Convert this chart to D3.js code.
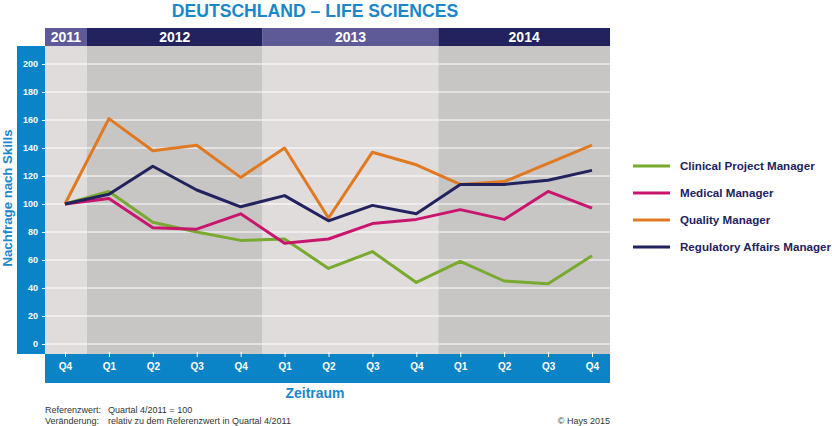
<!DOCTYPE html>
<html><head><meta charset="utf-8">
<script src="https://cdn.jsdelivr.net/npm/d3@7"></script>
<style>body{margin:0;background:#fff}svg{display:block;font-family:"Liberation Sans",Arial,sans-serif}</style>
</head><body><svg id="c" width="832" height="426"></svg>
<script>
const quarters = ["Q4","Q1","Q2","Q3","Q4","Q1","Q2","Q3","Q4","Q1","Q2","Q3","Q4"];
const years = [{label:"2011",from:0,to:0},{label:"2012",from:1,to:4},{label:"2013",from:5,to:8},{label:"2014",from:9,to:12}];
const seriesNames = ["Clinical Project Manager","Medical Manager","Quality Manager","Regulatory Affairs Manager"];
const clinical = [100,109,87,80,74,75,54,66,44,59,45,43,63];
const medical = [100,104,83,82,93,72,75,86,89,96,89,109,97];
const quality = [100,161,138,142,119,140,90,137,128,114,116,129,142];
const regulatory = [100,107,127,110,98,106,88,99,93,114,114,117,124];
const colors = ["#78aa2f","#c8166f","#e07a22","#22225e"];
const yTicks = [0,20,40,60,80,100,120,140,160,180,200];

const svg = d3.select("#c");
const L=45,R=610,T=46,B=354;
const x = d3.scalePoint().domain(d3.range(quarters.length)).range([65,592]);
const y = d3.scaleLinear().domain([0,200]).range([344,64]);
const step = x.step();

// title
svg.append("text").attr("x",315).attr("y",17).attr("text-anchor","middle")
  .attr("fill","#1a87c9").attr("font-weight","bold").attr("font-size",17.6).text("DEUTSCHLAND – LIFE SCIENCES");

// backgrounds and year header
years.forEach((yr,i)=>{
  const x0 = Math.max(L, x(yr.from)-step/2), x1 = Math.min(R, x(yr.to)+step/2);
  svg.append("rect").attr("x",x0).attr("y",T).attr("width",x1-x0).attr("height",B-T)
    .attr("fill", i%2===0 ? "#e0dcdb" : "#c8c6c5");
  svg.append("rect").attr("x",x0).attr("y",28).attr("width",x1-x0).attr("height",T-28)
    .attr("fill", i%2===0 ? "#5e5a98" : "#22225e");
  svg.append("text").attr("x",(x0+x1)/2).attr("y",42).attr("text-anchor","middle")
    .attr("fill","#fff").attr("font-weight","bold").attr("font-size",14).text(yr.label);
});

// gridlines
svg.append("g").selectAll("line").data(yTicks).join("line")
  .attr("x1",L).attr("x2",R).attr("y1",d=>y(d)).attr("y2",d=>y(d))
  .attr("stroke","#fff").attr("stroke-width",1);

// left blue bar & y axis
svg.append("rect").attr("x",17).attr("y",T).attr("width",L-17).attr("height",B-T).attr("fill","#0a84c7");
const yAxis = svg.append("g").attr("transform",`translate(${L},0)`)
  .call(d3.axisLeft(y).tickValues(yTicks).tickSize(3).tickPadding(4));
yAxis.select(".domain").remove();
yAxis.selectAll("line").attr("stroke","#fff");
yAxis.selectAll("text").attr("fill","#fff").attr("font-weight","bold").attr("font-size",9)
  .attr("font-family","Liberation Sans, Arial, sans-serif");

// bottom blue bar & x axis
svg.append("rect").attr("x",L).attr("y",B).attr("width",R-L).attr("height",383-B).attr("fill","#0a84c7");
const xAxis = svg.append("g").attr("transform",`translate(0,${B})`)
  .call(d3.axisBottom(x).tickFormat(i=>quarters[i]).tickSize(3).tickPadding(6));
xAxis.select(".domain").remove();
xAxis.selectAll("line").attr("stroke","#fff").attr("y1",-2);
xAxis.selectAll("text").attr("fill","#fff").attr("font-weight","bold").attr("font-size",10)
  .attr("font-family","Liberation Sans, Arial, sans-serif");

// axis titles
svg.append("text").attr("x",315).attr("y",398).attr("text-anchor","middle").attr("fill","#1a87c9")
  .attr("font-weight","bold").attr("font-size",14).text("Zeitraum");
svg.append("text").attr("transform","translate(12,198) rotate(-90)").attr("text-anchor","middle")
  .attr("fill","#1a87c9").attr("font-weight","bold").attr("font-size",13.2).text("Nachfrage nach Skills");

// lines
const data = [clinical,medical,quality,regulatory];
const line = d3.line().x((d,i)=>x(i)).y(d=>y(d));
data.forEach((s,k)=>{
  svg.append("path").datum(s).attr("d",line).attr("fill","none").attr("stroke",colors[k])
    .attr("stroke-width",3).attr("stroke-linejoin","round");
});

// legend
seriesNames.forEach((n,k)=>{
  const ly = 166 + k*27;
  svg.append("line").attr("x1",633).attr("x2",670).attr("y1",ly).attr("y2",ly).attr("stroke",colors[k]).attr("stroke-width",3);
  svg.append("text").attr("x",680).attr("y",ly+4).attr("fill","#22225e").attr("font-weight","bold")
    .attr("font-size",11.6).text(n);
});

// footnotes
const fn = svg.append("g").attr("font-size",9).attr("fill","#333");
fn.append("text").attr("x",45).attr("y",413).text("Referenzwert:");
fn.append("text").attr("x",108).attr("y",413).text("Quartal 4/2011 = 100");
fn.append("text").attr("x",45).attr("y",424).text("Veränderung:");
fn.append("text").attr("x",108).attr("y",424).text("relativ zu dem Referenzwert in Quartal 4/2011");
fn.append("text").attr("x",610).attr("y",424).attr("text-anchor","end").text("© Hays 2015");
</script></body></html>
